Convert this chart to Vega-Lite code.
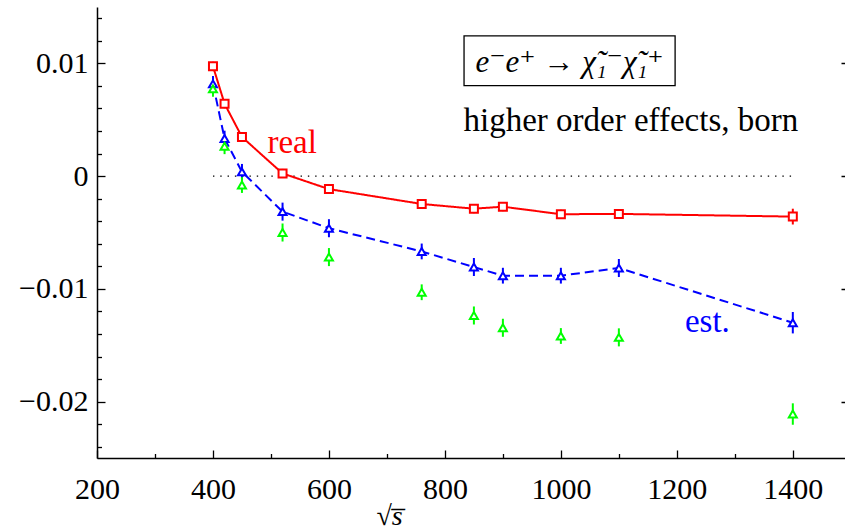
{
  "$schema": "https://vega.github.io/schema/vega-lite/v6.json",
  "width": 748,
  "height": 451,
  "autosize": "none",
  "padding": {"left": 97, "top": 7, "right": 0, "bottom": 73},
  "background": "white",
  "config": {
    "view": {"stroke": null},
    "font": "'Liberation Serif', 'DejaVu Serif', serif",
    "axis": {
      "grid": false,
      "domainColor": "black",
      "domainWidth": 1.5,
      "tickColor": "black",
      "tickWidth": 1.3,
      "labelColor": "black",
      "labelFont": "'Liberation Serif', 'DejaVu Serif', serif",
      "labelFontSize": 30,
      "titleFont": "'Liberation Serif', 'DejaVu Serif', serif",
      "titleFontWeight": "normal",
      "titleColor": "black"
    }
  },
  "datasets": {
    "points": [
      {"series": "real", "s": 400, "v": 0.00974, "err": 0.0004},
      {"series": "real", "s": 420, "v": 0.00642, "err": 0.0004},
      {"series": "real", "s": 450, "v": 0.00347, "err": 0.0004},
      {"series": "real", "s": 520, "v": 0.00024, "err": 0.0004},
      {"series": "real", "s": 600, "v": -0.00115, "err": 0.0004},
      {"series": "real", "s": 760, "v": -0.00247, "err": 0.0004},
      {"series": "real", "s": 850, "v": -0.00289, "err": 0.0004},
      {"series": "real", "s": 900, "v": -0.00271, "err": 0.0004},
      {"series": "real", "s": 1000, "v": -0.00338, "err": 0.0004},
      {"series": "real", "s": 1100, "v": -0.00335, "err": 0.0004},
      {"series": "real", "s": 1400, "v": -0.00359, "err": 0.0007},
      {"series": "est", "s": 400, "v": 0.00818, "err": 0.0007},
      {"series": "est", "s": 420, "v": 0.00333, "err": 0.0007},
      {"series": "est", "s": 450, "v": 0.00038, "err": 0.0007},
      {"series": "est", "s": 520, "v": -0.00315, "err": 0.0008},
      {"series": "est", "s": 600, "v": -0.00462, "err": 0.0008},
      {"series": "est", "s": 760, "v": -0.00668, "err": 0.0007},
      {"series": "est", "s": 850, "v": -0.00806, "err": 0.0008},
      {"series": "est", "s": 900, "v": -0.00883, "err": 0.0007},
      {"series": "est", "s": 1000, "v": -0.00883, "err": 0.0007},
      {"series": "est", "s": 1100, "v": -0.00815, "err": 0.0008},
      {"series": "est", "s": 1400, "v": -0.01300, "err": 0.00095},
      {"series": "born", "s": 400, "v": 0.00774, "err": 0.0007},
      {"series": "born", "s": 420, "v": 0.00265, "err": 0.0007},
      {"series": "born", "s": 450, "v": -0.00079, "err": 0.0007},
      {"series": "born", "s": 520, "v": -0.00500, "err": 0.0008},
      {"series": "born", "s": 600, "v": -0.00718, "err": 0.0008},
      {"series": "born", "s": 760, "v": -0.01030, "err": 0.0007},
      {"series": "born", "s": 850, "v": -0.01236, "err": 0.0008},
      {"series": "born", "s": 900, "v": -0.01345, "err": 0.0008},
      {"series": "born", "s": 1000, "v": -0.01418, "err": 0.0007},
      {"series": "born", "s": 1100, "v": -0.01430, "err": 0.0008},
      {"series": "born", "s": 1400, "v": -0.02110, "err": 0.00095}
    ]
  },
  "resolve": {"axis": {"x": "independent", "y": "independent"}},
  "layer": [
    {
      "description": "major ticks and labels on the left and bottom",
      "data": {"values": [{"x1": 833, "x2": 1197, "y1": 0.00803, "y2": 0.01244}]},
      "mark": {"type": "rect", "fill": "white", "stroke": "black", "strokeWidth": 1.3},
      "encoding": {
        "x": {
          "field": "x1", "type": "quantitative",
          "scale": {"domain": [200, 1490], "nice": false, "zero": false},
          "axis": {
            "orient": "bottom",
            "values": [200, 400, 600, 800, 1000, 1200, 1400],
            "format": "d",
            "tickSize": -8,
            "labelPadding": 24,
            "labelFlush": false,
            "labelOverlap": false,
            "title": "√s̅",
            "titleFontSize": 28,
            "titleFontStyle": "italic",
            "titleX": 292,
            "titleY": 66,
            "titleBaseline": "alphabetic",
            "titleAlign": "center"
          }
        },
        "x2": {"field": "x2"},
        "y": {
          "field": "y1", "type": "quantitative",
          "scale": {"domain": [-0.025, 0.015], "nice": false, "zero": false},
          "axis": {
            "orient": "left",
            "values": [-0.02, -0.01, 0, 0.01],
            "format": ".2~f",
            "tickSize": -8,
            "labelPadding": 17,
            "labelFlush": false,
            "labelOverlap": false,
            "title": null
          }
        },
        "y2": {"field": "y2"}
      }
    },
    {
      "description": "minor ticks on the left and bottom, dotted zero line",
      "data": {"values": [{"a": 400, "b": 1400, "z": 0}]},
      "mark": {"type": "rule", "color": "black", "strokeWidth": 1.4, "strokeDash": [1.4, 5.9]},
      "encoding": {
        "x": {
          "field": "a", "type": "quantitative",
          "axis": {
            "orient": "bottom",
            "values": [300, 500, 700, 900, 1100, 1300],
            "tickSize": -4.5,
            "labels": false,
            "domain": false,
            "title": null
          }
        },
        "x2": {"field": "b"},
        "y": {
          "field": "z", "type": "quantitative",
          "axis": {
            "orient": "left",
            "values": [-0.024, -0.022, -0.018, -0.016, -0.014, -0.012, -0.008, -0.006, -0.004, -0.002, 0.002, 0.004, 0.006, 0.008, 0.012, 0.014],
            "tickSize": -4.5,
            "labels": false,
            "domain": false,
            "title": null
          }
        }
      }
    },
    {
      "description": "right-hand ticks and error bars",
      "data": {"name": "points"},
      "mark": {"type": "errorbar", "rule": {"strokeWidth": 2}},
      "encoding": {
        "x": {"field": "s", "type": "quantitative", "axis": null},
        "y": {
          "field": "v", "type": "quantitative",
          "axis": {
            "orient": "right",
            "values": [-0.02, -0.01, 0, 0.01],
            "tickSize": -4,
            "tickWidth": 1.5,
            "labels": false,
            "domain": false,
            "title": null
          }
        },
        "yError": {"field": "err"},
        "color": {
          "field": "series", "type": "nominal",
          "scale": {"domain": ["real", "est", "born"], "range": ["#ff0000", "#0000ff", "#00ff00"]},
          "legend": null
        }
      }
    },
    {
      "data": {"name": "points"},
      "transform": [{"filter": "datum.series !== 'born'"}],
      "mark": {"type": "line", "strokeWidth": 2},
      "encoding": {
        "x": {"field": "s", "type": "quantitative", "axis": null},
        "y": {"field": "v", "type": "quantitative", "axis": null},
        "color": {
          "field": "series", "type": "nominal",
          "scale": {"domain": ["real", "est", "born"], "range": ["#ff0000", "#0000ff", "#00ff00"]},
          "legend": null
        },
        "strokeDash": {
          "field": "series", "type": "nominal",
          "scale": {"domain": ["real", "est"], "range": [[1, 0], [9, 5]]},
          "legend": null
        }
      }
    },
    {
      "data": {"name": "points"},
      "mark": {"type": "point", "filled": true, "fill": "white", "strokeWidth": 2, "size": 64, "opacity": 1},
      "encoding": {
        "x": {"field": "s", "type": "quantitative", "axis": null},
        "y": {"field": "v", "type": "quantitative", "axis": null},
        "stroke": {
          "field": "series", "type": "nominal",
          "scale": {"domain": ["real", "est", "born"], "range": ["#ff0000", "#0000ff", "#00ff00"]},
          "legend": null
        },
        "shape": {
          "field": "series", "type": "nominal",
          "scale": {"domain": ["real", "est", "born"], "range": ["square", "triangle-up", "triangle-up"]},
          "legend": null
        }
      }
    },
    {
      "data": {"values": [{"label": "e⁻e⁺ → χ̃₁⁻χ̃₁⁺", "x": 1015, "y": 0.00925}]},
      "mark": {"type": "text", "font": "'Liberation Serif', 'DejaVu Serif', serif", "fontSize": 31, "fontStyle": "italic", "align": "center", "baseline": "alphabetic", "color": "black"},
      "encoding": {
        "x": {"field": "x", "type": "quantitative", "axis": null},
        "y": {"field": "y", "type": "quantitative", "axis": null},
        "text": {"field": "label"}
      }
    },
    {
      "data": {"values": [{"label": "higher order effects, born", "x": 832, "y": 0.00397}]},
      "mark": {"type": "text", "font": "'Liberation Serif', 'DejaVu Serif', serif", "fontSize": 33, "align": "left", "baseline": "alphabetic", "color": "black"},
      "encoding": {
        "x": {"field": "x", "type": "quantitative", "axis": null},
        "y": {"field": "y", "type": "quantitative", "axis": null},
        "text": {"field": "label"}
      }
    },
    {
      "data": {"values": [{"label": "real", "x": 494, "y": 0.00203}]},
      "mark": {"type": "text", "font": "'Liberation Serif', 'DejaVu Serif', serif", "fontSize": 33, "align": "left", "baseline": "alphabetic", "color": "#ff0000"},
      "encoding": {
        "x": {"field": "x", "type": "quantitative", "axis": null},
        "y": {"field": "y", "type": "quantitative", "axis": null},
        "text": {"field": "label"}
      }
    },
    {
      "data": {"values": [{"label": "est.", "x": 1214, "y": -0.01383}]},
      "mark": {"type": "text", "font": "'Liberation Serif', 'DejaVu Serif', serif", "fontSize": 33, "align": "left", "baseline": "alphabetic", "color": "#0000ff"},
      "encoding": {
        "x": {"field": "x", "type": "quantitative", "axis": null},
        "y": {"field": "y", "type": "quantitative", "axis": null},
        "text": {"field": "label"}
      }
    }
  ]
}
